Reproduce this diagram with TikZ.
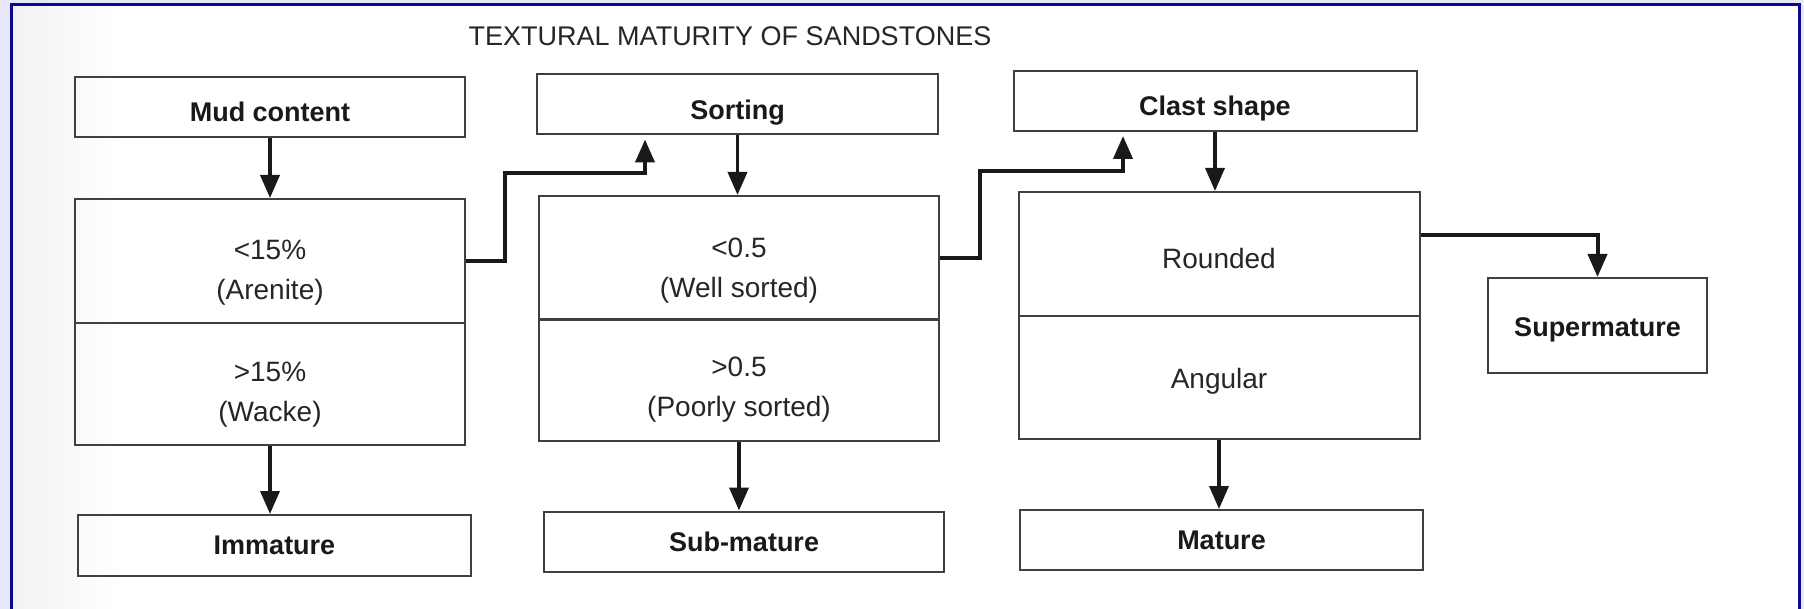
\documentclass[tikz,border=0pt]{standalone}
\usepackage{fontspec}
\setmainfont{Liberation Sans}
\usetikzlibrary{arrows.meta}
\definecolor{framenavy}{HTML}{0A0A8F}
\definecolor{outerlav}{HTML}{E8E8F8}
\begin{document}
\begin{tikzpicture}[x=0.5pt,y=-0.5pt,
  box/.style={draw=black!75, line width=1pt, rectangle, inner sep=0pt,
    font=\fontsize{13.5}{16}\selectfont\bfseries, text=black!90},
  topbox/.style={box, text height=14.8pt, text depth=0pt},
  cell/.style={draw=black!75, line width=1pt, rectangle, inner sep=0pt},
  txt/.style={align=center, inner sep=0pt, font=\fontsize{14}{20}\selectfont, text=black!85},
  arr/.style={line width=1.8pt, draw=black!90, -{Triangle[width=9.5pt,length=11.5pt]}},
  conn/.style={line width=2pt, draw=black!90, -{Triangle[width=9.5pt,length=11.5pt]}, shorten >=2pt},
]
\useasboundingbox (0,0) rectangle (1804,609);
% background and frame
\fill[outerlav] (0,0) rectangle (1804,609);
\fill[white] (11.5,5) rectangle (1799.5,609);
\shade[left color=black!5, right color=white] (13,6.5) rectangle (120,609);
\draw[framenavy, line width=1.5pt] (11.5,609) -- (11.5,5) -- (1799.5,5) -- (1799.5,609);

% title
\node[font=\fontsize{13.5}{16}\selectfont, text=black!85] (title) at (730,36) {TEXTURAL MATURITY OF SANDSTONES};

% top boxes
\node[topbox, minimum width=195pt, minimum height=30pt] (mud) at (270,107) {Mud content};
\node[topbox, minimum width=200.5pt, minimum height=30pt] (sort) at (737.5,104.5) {Sorting};
\node[topbox, minimum width=201.5pt, minimum height=30pt] (clast) at (1215,101) {Clast shape};

% middle cells
\node[cell, minimum width=195pt, minimum height=62pt] (a1) at (270,261) {};
\node[cell, minimum width=195pt, minimum height=61pt] (a2) at (270,384) {};
\node[cell, minimum width=200pt, minimum height=62pt] (b1) at (739,258) {};
\node[cell, minimum width=200pt, minimum height=61pt] (b2) at (739,380) {};
\node[cell, minimum width=200.5pt, minimum height=62pt] (c1) at (1219,254) {};
\node[cell, minimum width=200.5pt, minimum height=61.5pt] (c2) at (1219,377.5) {};

\node[txt] (ta1) at ([yshift=-6pt]a1.center) {<15\%\\(Arenite)};
\node[txt] (ta2) at ([yshift=-5.5pt]a2.center) {>15\%\\(Wacke)};
\node[txt] (tb1) at ([yshift=-6.5pt]b1.center) {<0.5\\(Well sorted)};
\node[txt] (tb2) at ([yshift=-5pt]b2.center) {>0.5\\(Poorly sorted)};
\node[txt] (tc1) at ([yshift=-2pt]c1.center) {Rounded};
\node[txt] (tc2) at ([yshift=-2pt]c2.center) {Angular};

% bottom boxes
\node[box, minimum width=196.5pt, minimum height=30.5pt] (imm) at (274.5,545.5) {Immature};
\node[box, minimum width=200pt, minimum height=30pt] (sub) at (744,541.5) {Sub-mature};
\node[box, minimum width=201.5pt, minimum height=30pt] (mat) at (1221.5,540) {Mature};
\node[box, text height=10.9pt, text depth=0pt, minimum width=109.5pt, minimum height=47.5pt] (sup) at (1597.5,325.5) {Supermature};

% vertical arrows
\draw[arr] (mud.south) -- (mud.south |- a1.north);
\draw[arr] (a2.south) -- (a2.south |- imm.north);
\draw[arr] (sort.south) -- (sort.south |- b1.north);
\draw[arr] (b2.south) -- (b2.south |- sub.north);
\draw[arr] (clast.south) -- (clast.south |- c1.north);
\draw[arr] (c2.south) -- (c2.south |- mat.north);

% connectors
\coordinate (k1) at (645,173);
\coordinate (k2) at (1123,171);
\draw[conn] (a1.east) -- ++(39,0) |- (k1) -- (k1 |- sort.south);
\draw[conn] (b1.east) -- ++(40,0) |- (k2) -- (k2 |- clast.south);
\draw[conn, shorten >=0pt] ([yshift=9.5pt]c1.east) -| (sup.north);
\end{tikzpicture}
\end{document}
